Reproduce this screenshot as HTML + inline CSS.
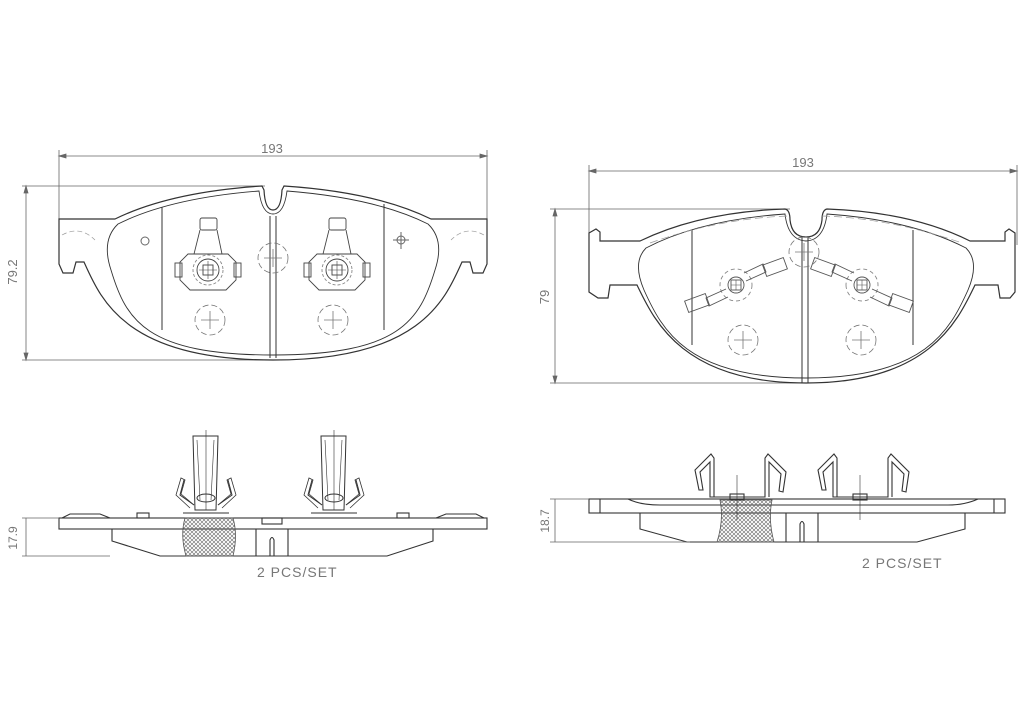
<!DOCTYPE html>
<html><head><meta charset="utf-8"><style>
html,body{margin:0;padding:0;background:#fff;width:1024px;height:724px;overflow:hidden}
svg{display:block}
text{font-family:"Liberation Sans",sans-serif;fill:#777}
</style></head><body>
<svg width="1024" height="724" viewBox="0 0 1024 724" xmlns="http://www.w3.org/2000/svg">
<defs>
<pattern id="h" width="4" height="4" patternUnits="userSpaceOnUse"><path d="M0,0L4,4M4,0L0,4" stroke="#666" stroke-width="0.6"/></pattern>
<g id="sensA" fill="none" stroke="#444" stroke-width="0.9">
<rect x="-8" y="-52" width="17" height="12" rx="2"/>
<path d="M-8,-40 L-14,-16 L14,-16 L9,-40"/>
<path d="M-20,-16 L20,-16 L28,-8 L28,10 L18,20 L-18,20 L-28,10 L-28,-8 Z"/>
<rect x="-33" y="-7" width="7" height="14"/><rect x="26" y="-7" width="7" height="14"/>
<circle r="11"/><circle r="15" stroke-dasharray="3 2" stroke="#888"/>
<rect x="-5" y="-5" width="10" height="10"/><path d="M-9,0H9M0,-9V9" stroke-width="0.6"/>
</g>
<g id="cross" fill="none" stroke="#777" stroke-width="0.8">
<circle r="15" stroke-dasharray="6 3"/><path d="M-9,0H9M0,-9V9"/>
</g>
<g id="sensB" fill="none" stroke="#555" stroke-width="0.9">
<circle r="16" stroke-dasharray="4 3" stroke="#888"/>
<circle r="8"/><rect x="-5" y="-5" width="10" height="10"/><path d="M-5,0H5M0,-5V5" stroke-width="0.6"/>
<path d="M-10,4 L-30,13 L-27,21 L-8,12"/><rect x="-50" y="12" width="22" height="12" transform="rotate(-20 -39 18)"/>
<path d="M10,-4 L30,-13 L27,-21 L8,-12"/><rect x="28" y="-24" width="22" height="12" transform="rotate(-20 39 -18)"/>
</g>
</defs>

<g stroke="#666" stroke-width="0.8" fill="none">
<!-- top-left dimensions -->
<path d="M59,150V230M487,150V230M59,156H487M26,186V360M22,186H265M22,360H270"/>
<path d="M59,156l7,-2v4zM487,156l-7,-2v4zM26,186l-2,7h4zM26,360l-2,-7h4z" fill="#666"/>
<!-- top-right dimensions -->
<path d="M589,165V245M1017,165V245M589,171H1017M555,209V383M550,209H790M550,383H800"/>
<path d="M589,171l7,-2v4zM1017,171l-7,-2v4zM555,209l-2,7h4zM555,383l-2,-7h4z" fill="#666"/>
</g>
<text x="272" y="153" font-size="13" text-anchor="middle">193</text>
<text x="803" y="167" font-size="13" text-anchor="middle">193</text>
<text transform="translate(17,272) rotate(-90)" font-size="13" text-anchor="middle">79.2</text>
<text transform="translate(549,297) rotate(-90)" font-size="13" text-anchor="middle">79</text>

<!-- top-left pad -->
<g fill="none" stroke="#333" stroke-width="1.2">
<path d="M59,219 H115 Q170,192 262,186 L264,190 Q265,210 273,210 Q281,210 282,190 L284,186 Q376,192 431,219 H487 V264 L483,273 H473 L470,262 H462 C445,300 420,360 273,360 C126,360 101,300 84,262 H76 L73,273 H63 L59,264 Z"/>
<path d="M118,224 Q170,198 259,191 Q262,214 273,214 Q284,214 287,191 Q376,198 428,224 Q445,240 435,270 C420,320 400,355 273,355 C146,355 126,320 111,270 Q101,240 118,224 Z" stroke-width="0.9"/>
<path d="M162,207V330M270,216V358M276,216V358M384,204V330" stroke-width="1"/>
<path d="M62,235 Q80,225 95,240 M484,235 Q466,225 451,240" stroke="#999" stroke-width="0.7" stroke-dasharray="5 3"/>
</g>
<use href="#sensA" x="208" y="270"/><use href="#sensA" x="337" y="270"/>
<use href="#cross" x="210" y="320"/><use href="#cross" x="333" y="320"/><use href="#cross" x="273" y="258"/>
<circle cx="145" cy="241" r="4" fill="none" stroke="#666"/>
<g stroke="#666" fill="none"><circle cx="401" cy="240" r="4"/><path d="M393,240H409M401,232V249"/></g>

<!-- top-right pad -->
<g fill="none" stroke="#333" stroke-width="1.2">
<path d="M589,233 L596,229 L600,232 V241 H640 Q700,212 785,209 Q790,210 790,220 Q792,237 806,237 Q820,237 822,220 Q822,210 827,209 Q912,212 970,241 H1005 V232 L1009,229 L1015,233 V292 L1010,298 H1000 L998,285 H975 C958,320 930,383 806,383 C682,383 654,320 637,285 H610 L608,298 H598 L589,292 Z"/>
<path d="M646,248 Q700,220 785,214 Q788,240 806,241 Q824,240 827,214 Q912,220 966,248 Q980,262 968,290 C950,330 925,378 806,378 C687,378 662,330 644,290 Q632,262 646,248 Z" stroke-width="0.9"/>
<path d="M692,230V345M802,237V383M808,237V383M913,230V345" stroke-width="1"/>
<path d="M650,243 Q720,218 790,216 M822,216 Q890,218 962,243" stroke="#999" stroke-width="0.7" stroke-dasharray="8 4"/>
</g>
<use href="#sensB" x="736" y="285"/>
<g transform="translate(862,285) scale(-1,1)"><use href="#sensB"/></g>
<use href="#cross" x="743" y="340"/><use href="#cross" x="861" y="340"/><use href="#cross" x="804" y="252"/>

<!-- bottom-left side view -->
<g fill="none" stroke="#333" stroke-width="1.1">
<rect x="59" y="518" width="428" height="11"/>
<path d="M62,518 L70,514 H100 L110,518 M436,518 L446,514 H476 L484,518"/>
<rect x="137" y="513" width="12" height="5"/><rect x="397" y="513" width="12" height="5"/>
<path d="M112,529 V541 L160,556 H387 L433,541 V529"/>
<rect x="262" y="518" width="20" height="6"/>
<path d="M256,529V556M288,529V556M270,556V540Q272,535 274,540V556"/>
</g>
<path d="M185,518 H233 Q238,535 233,556 H186 Q180,535 185,518Z" fill="url(#h)" stroke="#555" stroke-width="0.8"/>
<g fill="none" stroke="#333" stroke-width="1">
<g id="clipL">
<path d="M193,436 H218 L216,510 H195 Z"/><path d="M197,440 L200,500 M214,440 L211,500 M206,430 V510" stroke-width="0.6"/>
<ellipse cx="206" cy="498" rx="9" ry="4"/>
<path d="M194,505 L180,495 L184,480 M218,505 L232,495 L228,480"/>
<path d="M190,508 L176,495 L181,478 L185,480 L181,494 L194,505" stroke-width="0.8"/>
<path d="M222,508 L236,495 L231,478 L227,480 L231,494 L218,505" stroke-width="0.8"/>
<path d="M183,513 H229"/>
</g>
<use href="#clipL" x="128"/>
</g>
<g fill="none" stroke="#666" stroke-width="0.8"><path d="M22,518H59M22,556H110M26,518V556"/></g>
<text transform="translate(17,538) rotate(-90)" font-size="12" text-anchor="middle">17.9</text>
<text x="257" y="577" font-size="14" letter-spacing="1">2  PCS/SET</text>

<!-- bottom-right side view -->
<g fill="none" stroke="#333" stroke-width="1.1">
<rect x="589" y="499" width="416" height="14"/>
<path d="M600,499V513M994,499V513M628,499 Q640,505 660,505 H948 Q965,505 978,499"/>
<path d="M640,513 V529 L687,542 H917 L965,529 V513"/>
<path d="M786,513V542M818,513V542M800,542V524Q802,519 804,524V542"/>
</g>
<path d="M720,500 H772 Q768,520 774,542 H717 Q724,520 720,500Z" fill="url(#h)" stroke="#555" stroke-width="0.8"/>
<g fill="none" stroke="#333" stroke-width="1.1">
<g id="uclip">
<path d="M714,497 V458 L711,454 L695,470 L699,490 L703,490 L700,472 L710,462 V497 H765 V458 L768,454 L786,472 L783,492 L779,491 L781,474 L769,462 V497"/>
<rect x="730" y="494" width="14" height="6"/>
<path d="M737,475V520" stroke-width="0.6"/>
</g>
<use href="#uclip" x="123"/>
</g>
<g fill="none" stroke="#666" stroke-width="0.8"><path d="M550,499H589M550,542H690M555,499V542"/></g>
<text transform="translate(549,521) rotate(-90)" font-size="12" text-anchor="middle">18.7</text>
<text x="862" y="568" font-size="14" letter-spacing="1">2  PCS/SET</text>
</svg>
</body></html>
